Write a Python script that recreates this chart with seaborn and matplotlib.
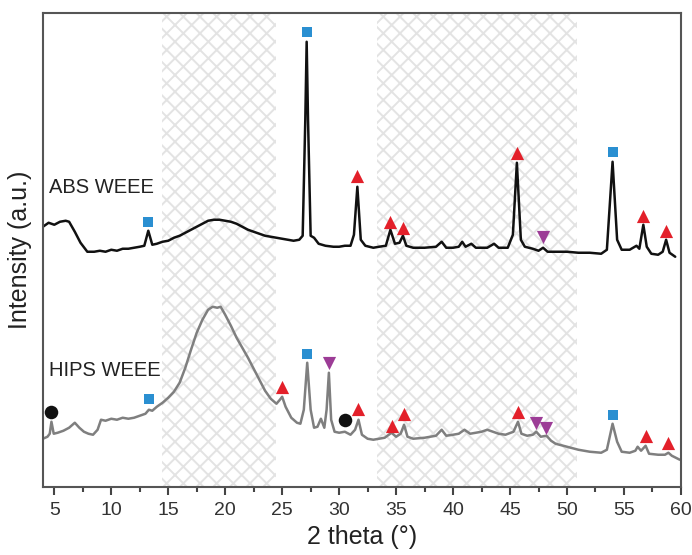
import numpy as np
import pandas as pd
import seaborn as sns
import matplotlib.pyplot as plt
from matplotlib.ticker import MultipleLocator

# XRD patterns (intensity in arbitrary units)
abs_theta = [4.0, 4.5, 5.0, 5.5, 6.0, 6.3, 6.8, 7.3, 7.9, 8.5, 9.0, 9.5, 10.0, 10.5,
             11.0, 11.5, 12.0, 12.5, 12.9, 13.25, 13.6, 14.0, 14.5, 15.0, 15.5, 16.0,
             16.5, 17.0, 17.5, 18.0, 18.5, 19.0, 19.5, 20.0, 20.5, 21.0, 21.5, 22.0,
             22.5, 23.0, 23.5, 24.0, 24.5, 25.0, 25.5, 26.0, 26.5, 26.8, 27.03, 27.15,
             27.27, 27.5, 27.8, 28.2, 28.8, 29.5, 30.0, 30.5, 31.0, 31.3, 31.6, 31.9,
             32.3, 33.0, 33.5, 34.1, 34.5, 34.9, 35.3, 35.6, 35.9, 36.5, 37.5, 38.5,
             39.0, 39.4, 40.0, 40.5, 40.8, 41.1, 41.6, 42.0, 43.0, 43.6, 44.0, 44.8,
             45.25, 45.6, 45.95, 46.3, 47.0, 47.5, 47.9, 48.3, 49.0, 50.0, 51.0, 52.0,
             53.0, 53.5, 54.0, 54.4, 54.8, 55.5, 56.1, 56.35, 56.7, 57.0, 57.4, 58.0,
             58.4, 58.7, 59.0, 59.5]
abs_int = [260, 264, 262, 265, 266, 265, 255, 244, 235, 235, 236, 235, 237, 236,
           238, 238, 239, 240, 241, 256, 242, 243, 245, 246, 249, 251,
           254, 257, 260, 263, 266, 267, 267, 266, 265, 263, 260, 257,
           255, 253, 251, 250, 249, 248, 247, 246, 247, 251, 367, 445,
           367, 251, 249, 243, 241, 240, 240, 241, 241, 252, 300, 247,
           241, 239, 240, 241, 257, 243, 244, 251, 241, 239, 239, 240,
           245, 239, 239, 240, 245, 240, 243, 239, 239, 243, 239, 239,
           252, 324, 247, 240, 238, 236, 239, 235, 235, 235, 234, 234,
           233, 237, 325, 247, 237, 237, 241, 238, 262, 240, 233, 232,
           235, 247, 234, 230]

hips_theta = [4.0, 4.4, 4.6, 4.75, 4.95, 5.3, 5.8, 6.3, 6.8, 7.2, 7.6, 8.0, 8.4, 8.8,
              9.1, 9.5, 10.0, 10.5, 11.0, 11.5, 12.0, 12.5, 13.0, 13.3, 13.6, 14.0,
              14.5, 15.0, 15.5, 16.0, 16.5, 17.0, 17.5, 18.0, 18.5, 18.9, 19.3, 19.6,
              20.0, 20.5, 21.0, 21.5, 22.0, 22.5, 23.0, 23.5, 24.0, 24.5, 24.8, 25.0,
              25.3, 25.8, 26.3, 26.6, 26.9, 27.2, 27.5, 27.8, 28.1, 28.4, 28.7, 28.9,
              29.1, 29.3, 29.6, 30.0, 30.5, 31.0, 31.4, 31.7, 32.0, 32.5, 33.0, 33.5,
              34.0, 34.6, 35.0, 35.4, 35.7, 36.0, 36.5, 37.5, 38.5, 39.0, 39.4, 40.0,
              40.5, 41.0, 41.5, 42.0, 42.5, 43.0, 43.5, 44.0, 44.6, 45.3, 45.7, 46.0,
              46.5, 47.0, 47.3, 47.7, 48.2, 48.6, 49.0, 50.0, 51.0, 52.0, 53.0, 53.5,
              54.0, 54.4, 54.8, 55.5, 56.0, 56.2, 56.5, 56.9, 57.2, 58.0, 58.6, 58.9,
              59.2, 59.9]
hips_int = [48, 50, 53, 65, 53, 54, 56, 59, 64, 59, 55, 53, 52, 57,
            67, 66, 68, 67, 69, 68, 69, 71, 73, 77, 76, 80,
            84, 89, 95, 104, 119, 137, 154, 167, 177, 180, 179, 180,
            172, 161, 149, 139, 129, 118, 107, 96, 88, 83, 87, 90,
            80, 69, 64, 63, 77, 124, 77, 59, 60, 68, 59, 77,
            114, 67, 55, 54, 55, 52, 57, 67, 52, 48, 47, 48,
            49, 54, 50, 53, 62, 50, 48, 49, 51, 57, 51, 52,
            53, 57, 53, 54, 55, 57, 55, 53, 52, 55, 65, 53,
            51, 52, 55, 50, 51, 46, 43, 40, 37, 35, 34, 37,
            63, 45, 35, 34, 36, 40, 36, 41, 33, 32, 32, 34,
            31, 27]

# phase markers: (2theta, height)
square_x = [13.25, 27.15, 54.0, 13.3, 27.2, 54.0]
square_y = [265, 455, 335, 88, 133, 72]
up_x = [31.6, 34.5, 35.6, 45.6, 56.7, 58.7, 25.0, 31.7, 34.6, 35.7, 45.7, 56.9, 58.9]
up_y = [311, 265, 259, 334, 271, 256, 100, 78, 61, 73, 75, 51, 44]
down_x = [47.9, 29.1, 47.3, 48.2]
down_y = [250, 124, 64, 59]
circle_x = [4.75, 30.5]
circle_y = [75, 67]

amorphous_zones = [(14.45, 24.5), (33.3, 50.85)]

sns.set_style('ticks')
plt.rcParams['font.family'] = ['Liberation Sans', 'DejaVu Sans']
plt.rcParams['hatch.linewidth'] = 1.4

fig, ax = plt.subplots(figsize=(6.92, 5.55), dpi=100)
fig.subplots_adjust(left=0.062, right=0.984, bottom=0.123, top=0.977)

for lo, hi in amorphous_zones:
    ax.axvspan(lo, hi, facecolor='none', edgecolor='#e3e3e3', hatch='xx', linewidth=0, zorder=0)

abs_df = pd.DataFrame({'theta': abs_theta, 'I': abs_int})
hips_df = pd.DataFrame({'theta': hips_theta, 'I': hips_int})
sns.lineplot(data=abs_df, x='theta', y='I', color='#111111', lw=1.8, ax=ax, sort=False, estimator=None)
sns.lineplot(data=hips_df, x='theta', y='I', color='#7f7f7f', lw=1.8, ax=ax, sort=False, estimator=None)

sns.scatterplot(x=square_x, y=square_y, marker='s', color='#2a8fd1', s=55, linewidth=0, ax=ax, zorder=5)
sns.scatterplot(x=up_x, y=up_y, marker='^', color='#e3202a', s=90, linewidth=0, ax=ax, zorder=5)
sns.scatterplot(x=down_x, y=down_y, marker='v', color='#9c3c96', s=90, linewidth=0, ax=ax, zorder=5)
sns.scatterplot(x=circle_x, y=circle_y, marker='o', color='#111111', s=95, linewidth=0, ax=ax, zorder=5)

ax.text(4.55, 299, 'ABS WEEE', fontsize=14.5, color='#222222', va='center', ha='left')
ax.text(4.55, 116, 'HIPS WEEE', fontsize=14.5, color='#222222', va='center', ha='left')

ax.set_xlim(4, 60)
ax.set_ylim(0, 474)
ax.xaxis.set_major_locator(MultipleLocator(5))
ax.xaxis.set_minor_locator(MultipleLocator(2.5))
ax.set_yticks([])
ax.tick_params(axis='x', which='major', length=6, width=1.5, color='#444444',
               labelsize=14, labelcolor='#333333', pad=5)
ax.tick_params(axis='x', which='minor', length=3.5, width=1.5, color='#444444')
for sp in ax.spines.values():
    sp.set_visible(True)
    sp.set_color('#555555')
    sp.set_linewidth(1.5)

ax.set_xlabel('2 theta (°)', fontsize=18, color='#222222', labelpad=4)
ax.set_ylabel('Intensity (a.u.)', fontsize=18, color='#222222', labelpad=8)

fig.savefig('out.png', dpi=100)
